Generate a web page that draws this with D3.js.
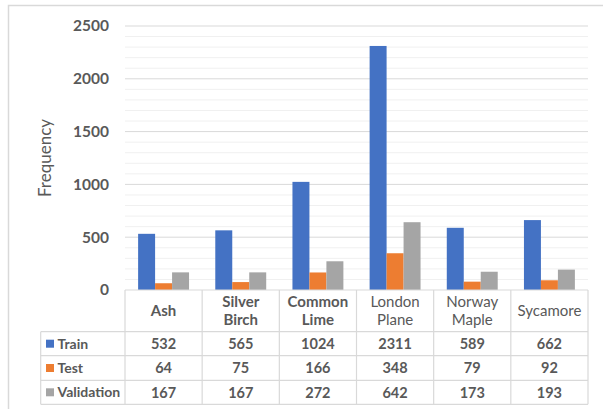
<!DOCTYPE html>
<html>
<head>
<meta charset="utf-8">
<script src="https://cdn.jsdelivr.net/npm/d3@7"></script>
<style>
  body { margin: 0; background: #fff; }
  svg text { font-family: Lato, "Open Sans", sans-serif; fill: #595959; }
</style>
</head>
<body>
<div id="chart"></div>
<script>
// data
const categories = ["Ash", "Silver Birch", "Common Lime", "London Plane", "Norway Maple", "Sycamore"];
const seriesNames = ["Train", "Test", "Validation"];
const train = [532, 565, 1024, 2311, 589, 662];
const test = [64, 75, 166, 348, 79, 92];
const validation = [167, 167, 272, 642, 173, 193];
const yTicks = [0, 500, 1000, 1500, 2000, 2500];

const seriesValues = [train, test, validation];
const colors = ["#4472C4", "#ED7D31", "#A5A5A5"];

const width = 603, height = 409;
const plot = { left: 125, right: 588, top: 26, bottom: 290 };
const rowLines = [290, 331.7, 355.7, 380.3, 404.3];
const legendLeft = 40.7;

const svg = d3.select("#chart").append("svg")
  .attr("width", width).attr("height", height);

// frame
svg.append("path")
  .attr("d", `M8.5,${height} V5.5 H${width}`)
  .attr("fill", "none").attr("stroke", "#d9d9d9").attr("stroke-width", 1.5);

const y = d3.scaleLinear().domain([0, 2500]).range([plot.bottom, plot.top]);
const x = d3.scaleBand().domain(categories).range([plot.left, plot.right]).padding(0);
const bw = x.bandwidth();
const xs = d3.scaleBand().domain(seriesNames).range([bw * 0.17, bw * 0.83]).padding(0);

// gridlines
const minor = d3.range(100, 2501, 100).filter(v => v % 500 !== 0);
svg.append("g").selectAll("line").data(minor).join("line")
  .attr("x1", plot.left).attr("x2", plot.right)
  .attr("y1", d => y(d)).attr("y2", d => y(d))
  .attr("stroke", "#f0f0f0").attr("stroke-width", 1);
svg.append("g").selectAll("line").data(yTicks.filter(v => v > 0)).join("line")
  .attr("x1", plot.left).attr("x2", plot.right)
  .attr("y1", d => y(d)).attr("y2", d => y(d))
  .attr("stroke", "#d9d9d9").attr("stroke-width", 1);

// y axis labels
const yAxis = svg.append("g")
  .attr("transform", `translate(${plot.left},0)`)
  .call(d3.axisLeft(y).tickValues(yTicks).tickFormat(d3.format("d")).tickSize(0).tickPadding(16));
yAxis.select(".domain").remove();
yAxis.selectAll("text")
  .attr("font-size", 15.5).attr("font-weight", "bold")
  .style("font-family", "Lato, sans-serif").attr("fill", "#595959");

svg.append("text")
  .attr("transform", `translate(51,${(plot.top + plot.bottom) / 2}) rotate(-90)`)
  .attr("text-anchor", "middle")
  .attr("font-size", 17)
  .text("Frequency");

// bars
seriesNames.forEach((s, i) => {
  svg.append("g").selectAll("rect").data(categories).join("rect")
    .attr("x", (d) => x(d) + xs(s))
    .attr("width", xs.bandwidth())
    .attr("y", (d, j) => y(seriesValues[i][j]))
    .attr("height", (d, j) => y(0) - y(seriesValues[i][j]))
    .attr("fill", colors[i]);
});

// data table
const tbl = svg.append("g").attr("stroke", "#d9d9d9").attr("stroke-width", 1.2);
tbl.append("line").attr("x1", plot.left).attr("x2", plot.right)
  .attr("y1", rowLines[0]).attr("y2", rowLines[0]);
rowLines.slice(1).forEach(r => {
  tbl.append("line").attr("x1", legendLeft).attr("x2", plot.right)
    .attr("y1", r).attr("y2", r);
});
tbl.append("line").attr("x1", legendLeft).attr("x2", legendLeft)
  .attr("y1", rowLines[1]).attr("y2", rowLines[4]);
categories.forEach(c => {
  tbl.append("line").attr("x1", x(c)).attr("x2", x(c))
    .attr("y1", rowLines[0]).attr("y2", rowLines[4]);
});
tbl.append("line").attr("x1", plot.right).attr("x2", plot.right)
  .attr("y1", rowLines[0]).attr("y2", rowLines[4]);

// category header
const headerMid = (rowLines[0] + rowLines[1]) / 2;
const boldHeads = ["Ash", "Silver Birch", "Common Lime"];
categories.forEach(c => {
  const words = c.split(" ");
  const t = svg.append("text")
    .attr("text-anchor", "middle")
    .attr("font-size", 15)
    .attr("font-weight", boldHeads.includes(c) ? "bold" : "normal");
  words.forEach((w, k) => {
    t.append("tspan")
      .attr("x", x(c) + bw / 2)
      .attr("y", headerMid + (k - (words.length - 1) / 2) * 17.6)
      .attr("dy", "0.36em")
      .text(w);
  });
});

// rows
seriesNames.forEach((s, i) => {
  const mid = (rowLines[i + 1] + rowLines[i + 2]) / 2;
  svg.append("rect")
    .attr("x", 46).attr("y", mid - 4).attr("width", 8).attr("height", 8)
    .attr("fill", colors[i]);
  svg.append("text")
    .attr("x", 57.5).attr("y", mid).attr("dy", "0.36em")
    .attr("font-size", 14).attr("font-weight", "bold")
    .text(s);
  svg.append("g").selectAll("text").data(seriesValues[i]).join("text")
    .attr("x", (d, j) => x(categories[j]) + bw / 2)
    .attr("y", mid).attr("dy", "0.36em")
    .attr("text-anchor", "middle")
    .attr("font-size", 14.5).attr("font-weight", "bold")
    .text(d => d);
});
</script>
</body>
</html>
